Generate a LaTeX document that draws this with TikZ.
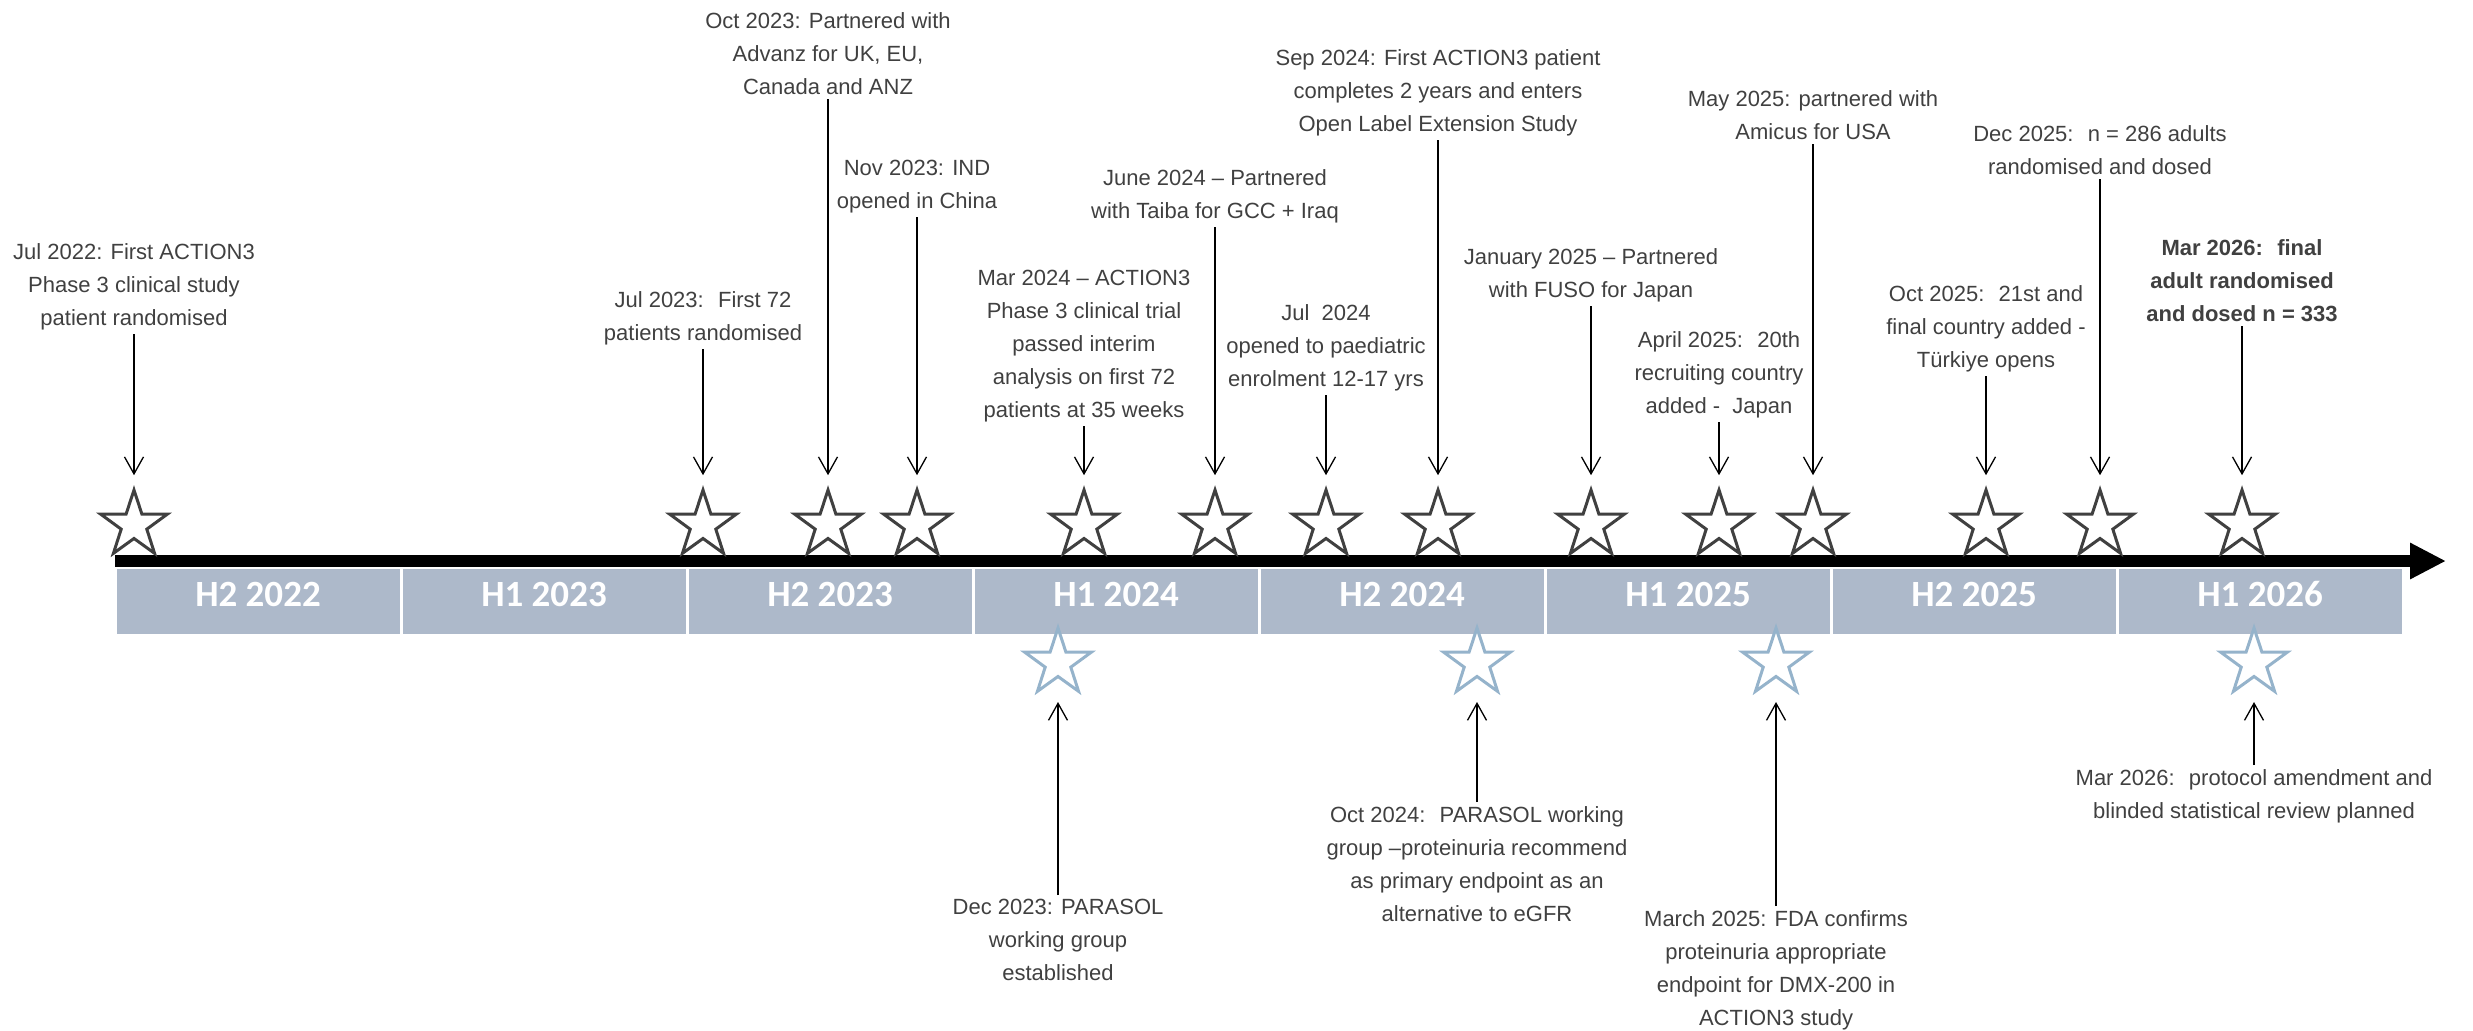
\documentclass[tikz,border=0pt]{standalone}
\usepackage{fontspec}
\setmainfont{Liberation Sans}
\newfontfamily\halffont{Carlito}
\usetikzlibrary{shapes.geometric,arrows.meta}
\definecolor{txtgray}{HTML}{404040}
\definecolor{halfblue}{HTML}{ADB9CA}
\definecolor{starblue}{HTML}{95B3CB}
\begin{document}
\begin{tikzpicture}[x=0.5pt,y=-0.5pt,
lbl/.style={align=center,text=txtgray,inner sep=2pt,font=\fontsize{11}{16.5}\selectfont},
upstar/.style={star,star points=5,star point ratio=2.6,minimum size=35pt,inner sep=0pt,draw=txtgray,fill=white,line width=1.5pt},
lowstar/.style={upstar,draw=starblue},
half/.style={fill=halfblue,draw=white,line width=1.5pt,minimum width=143pt,minimum height=34pt,inner sep=0pt,text depth=7pt,text=white,font=\halffont\bfseries\fontsize{18.5}{20}\selectfont},
arw/.style={-{Straight Barb[length=8.5pt,width=9.5pt]},line width=0.65pt,shorten >=5pt},
bar/.style={-{Triangle[length=18pt,width=17pt]},line width=6pt}
]
\useasboundingbox(0,0)rectangle(2473,1030);
%\draw[help lines,step=100](0,0)grid(2473,1030);

% half years
\node[half]at(258,601)(h1){H2 2022};
\node[half]at(544,601)(h2){H1 2023};
\node[half]at(830,601)(h3){H2 2023};
\node[half]at(1116,601)(h4){H1 2024};
\node[half]at(1402,601)(h5){H2 2024};
\node[half]at(1688,601)(h6){H1 2025};
\node[half]at(1974,601)(h7){H2 2025};
\node[half]at(2260,601)(h8){H1 2026};
\coordinate(tl0)at(115,561);
\coordinate(tl1)at(2446,561);
\draw[bar](tl0)--(tl1);

% above the line
\node[upstar]at(134,525)(u1){};
\node[lbl,anchor=south]at(134,334)(ul1){Jul 2022: First ACTION3\\Phase 3 clinical study\\patient randomised};
\draw[arw](ul1)--(u1);
\node[upstar]at(703,525)(u2){};
\node[lbl,anchor=south]at(703,349)(ul2){Jul 2023:~ First 72\\patients randomised};
\draw[arw](ul2)--(u2);
\node[upstar]at(828,525)(u3){};
\node[lbl,anchor=south]at(828,99)(ul3){Oct 2023: Partnered with\\Advanz for UK, EU,\\Canada and ANZ};
\draw[arw](ul3)--(u3);
\node[upstar]at(917,525)(u4){};
\node[lbl,anchor=south]at(917,217)(ul4){Nov 2023: IND\\opened in China};
\draw[arw](ul4)--(u4);
\node[upstar]at(1084,525)(u5){};
\node[lbl,anchor=south]at(1084,426)(ul5){Mar 2024 – ACTION3\\Phase 3 clinical trial\\passed interim\\analysis on first 72\\patients at 35 weeks};
\draw[arw](ul5)--(u5);
\node[upstar]at(1215,525)(u6){};
\node[lbl,anchor=south]at(1215,227)(ul6){June 2024 – Partnered\\with Taiba for GCC + Iraq};
\draw[arw](ul6)--(u6);
\node[upstar]at(1326,525)(u7){};
\node[lbl,anchor=south]at(1326,395)(ul7){Jul~ 2024\\opened to paediatric\\enrolment 12-17 yrs};
\draw[arw](ul7)--(u7);
\node[upstar]at(1438,525)(u8){};
\node[lbl,anchor=south]at(1438,140)(ul8){Sep 2024: First ACTION3 patient\\completes 2 years and enters\\Open Label Extension Study};
\draw[arw](ul8)--(u8);
\node[upstar]at(1591,525)(u9){};
\node[lbl,anchor=south]at(1591,306)(ul9){January 2025 – Partnered\\with FUSO for Japan};
\draw[arw](ul9)--(u9);
\node[upstar]at(1719,525)(u10){};
\node[lbl,anchor=south]at(1719,422)(ul10){April 2025:~ 20th\\recruiting country\\added -~ Japan};
\draw[arw](ul10)--(u10);
\node[upstar]at(1813,525)(u11){};
\node[lbl,anchor=south]at(1813,144)(ul11){May 2025: partnered with\\Amicus for USA};
\draw[arw](ul11)--(u11);
\node[upstar]at(1986,525)(u12){};
\node[lbl,anchor=south]at(1986,376)(ul12){Oct 2025:~ 21st and\\final country added -\\Türkiye opens};
\draw[arw](ul12)--(u12);
\node[upstar]at(2100,525)(u13){};
\node[lbl,anchor=south]at(2100,179)(ul13){Dec 2025:~ n = 286 adults\\randomised and dosed};
\draw[arw](ul13)--(u13);
\node[upstar]at(2242,525)(u14){};
\node[lbl,anchor=south,font=\fontsize{11}{16.5}\selectfont\bfseries]at(2242,326)(ul14){Mar 2026:~ final\\adult randomised\\and dosed n = 333};
\draw[arw](ul14)--(u14);

% below the line
\node[lowstar]at(1058,663)(d1){};
\node[lbl,anchor=north]at(1058,895)(dl1){Dec 2023: PARASOL\\working group\\established};
\draw[arw,shorten >=19.5pt](dl1)--(d1.center);
\node[lowstar]at(1477,663)(d2){};
\node[lbl,anchor=north]at(1477,802)(dl2){Oct 2024:~ PARASOL working\\group –proteinuria recommend\\as primary endpoint as an\\alternative to eGFR};
\draw[arw,shorten >=19.5pt](dl2)--(d2.center);
\node[lowstar]at(1776,663)(d3){};
\node[lbl,anchor=north]at(1776,906)(dl3){March 2025: FDA confirms\\proteinuria appropriate\\endpoint for DMX-200 in\\ACTION3 study};
\draw[arw,shorten >=19.5pt](dl3)--(d3.center);
\node[lowstar]at(2254,663)(d4){};
\node[lbl,anchor=north]at(2254,765)(dl4){Mar 2026:~ protocol amendment and\\blinded statistical review planned};
\draw[arw,shorten >=19.5pt](dl4)--(d4.center);

\end{tikzpicture}
\end{document}
